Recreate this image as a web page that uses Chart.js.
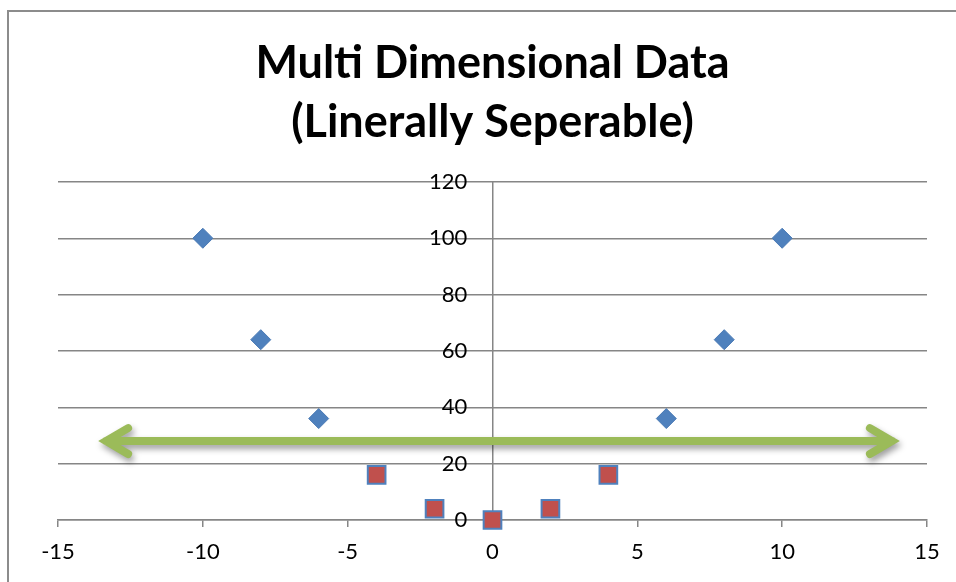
<!DOCTYPE html>
<html>
<head>
<meta charset="utf-8">
<script src="https://cdn.jsdelivr.net/npm/chart.js@4.4.1/dist/chart.umd.min.js"></script>
<style>
  html, body { margin: 0; padding: 0; background: #ffffff; overflow: hidden; }
  #chart { display: block; }
</style>
</head>
<body>
<canvas id="chart" width="956" height="582"></canvas>
<script>
// Class A: outer points (x, x^2)
const classAX = [-10, -8, -6, 6, 8, 10];
const classAY = [100, 64, 36, 36, 64, 100];

// Class B: inner points (x, x^2)
const classBX = [-4, -2, 0, 2, 4];
const classBY = [16, 4, 0, 4, 16];

// Separating line, drawn as a double-headed arrow (null marks a break in the path)
const arrowX = [-12.58, -13.34, -12.58, null, -13.34, 13.79, null, 13.03, 13.79, 13.03];
const arrowY = [32.6, 28, 23.4, null, 28, 28, null, 32.6, 28, 23.4];

// Axis ticks
const xTicks = [-15, -10, -5, 0, 5, 10, 15];
const yTicks = [0, 20, 40, 60, 80, 100, 120];

const FONT = 'Lato, "Noto Sans", sans-serif';
const GRID = '#868686';

const toPoints = (xs, ys) => xs.map((x, i) => (x === null ? { x: NaN, y: null } : { x: x, y: ys[i] }));

// White background and the outer chart frame (left and top edges)
const chartFrame = {
  id: 'chartFrame',
  beforeDraw(chart) {
    const ctx = chart.ctx;
    ctx.save();
    ctx.fillStyle = '#ffffff';
    ctx.fillRect(0, 0, chart.width, chart.height);
    ctx.strokeStyle = '#8c8c8c';
    ctx.lineWidth = 2;
    ctx.beginPath();
    ctx.moveTo(8, chart.height);
    ctx.lineTo(8, 11);
    ctx.lineTo(chart.width, 11);
    ctx.stroke();
    ctx.restore();
  }
};

// Soft drop shadow under the arrow
const arrowShadow = {
  id: 'arrowShadow',
  beforeDatasetDraw(chart, args) {
    if (chart.data.datasets[args.index].isArrow) {
      const ctx = chart.ctx;
      ctx.save();
      ctx.shadowColor = 'rgba(0,0,0,0.38)';
      ctx.shadowBlur = 6;
      ctx.shadowOffsetX = 2;
      ctx.shadowOffsetY = 4;
    }
  },
  afterDatasetDraw(chart, args) {
    if (chart.data.datasets[args.index].isArrow) {
      chart.ctx.restore();
    }
  }
};

new Chart(document.getElementById('chart'), {
  type: 'scatter',
  data: {
    datasets: [
      {
        label: 'Separator',
        isArrow: true,
        type: 'line',
        data: toPoints(arrowX, arrowY),
        borderColor: '#9BBB59',
        borderWidth: 8,
        borderCapStyle: 'round',
        borderJoinStyle: 'miter',
        pointRadius: 0,
        spanGaps: false,
        fill: false,
        clip: false,
        order: 0
      },
      {
        label: 'Class A',
        data: toPoints(classAX, classAY),
        pointStyle: 'rectRot',
        pointRadius: 10,
        backgroundColor: '#4F81BD',
        borderColor: '#4A7AB5',
        borderWidth: 1,
        clip: false,
        order: 1
      },
      {
        label: 'Class B',
        data: toPoints(classBX, classBY),
        pointStyle: 'rect',
        pointRadius: 12.5,
        backgroundColor: '#C0504D',
        borderColor: '#4F81BD',
        borderWidth: 2,
        clip: false,
        order: 2
      }
    ]
  },
  options: {
    responsive: false,
    animation: false,
    events: [],
    layout: { padding: { left: 58, right: 29, top: 0, bottom: 4.6 } },
    plugins: {
      legend: { display: false },
      tooltip: { enabled: false },
      title: {
        display: true,
        fullSize: false,
        text: ['Multi Dimensional Data', '(Linerally Seperable)'],
        color: '#000000',
        font: { family: FONT, size: 45, weight: 'bold', lineHeight: 1.31 },
        padding: { top: 34, bottom: 30 }
      }
    },
    scales: {
      x: {
        type: 'linear',
        min: -15,
        max: 15,
        afterBuildTicks: (axis) => { axis.ticks = xTicks.map(v => ({ value: v })); },
        grid: { drawOnChartArea: false, drawTicks: true, tickLength: 7, color: GRID, lineWidth: 1.5 },
        border: { display: true, color: GRID, width: 1.5 },
        ticks: { color: '#000000', font: { family: FONT, size: 22 }, padding: 12 }
      },
      y: {
        type: 'linear',
        min: 0,
        max: 120,
        position: { x: 0 },
        afterBuildTicks: (axis) => { axis.ticks = yTicks.map(v => ({ value: v })); },
        grid: { color: GRID, lineWidth: 1.5, drawTicks: false },
        border: { display: true, color: GRID, width: 1.5 },
        ticks: {
          color: '#000000',
          font: { family: FONT, size: 22 },
          // trailing spaces keep the labels clear of the centred axis line
          callback: (v) => v + '    \u2009'
        }
      }
    }
  },
  plugins: [chartFrame, arrowShadow]
});
</script>
</body>
</html>
